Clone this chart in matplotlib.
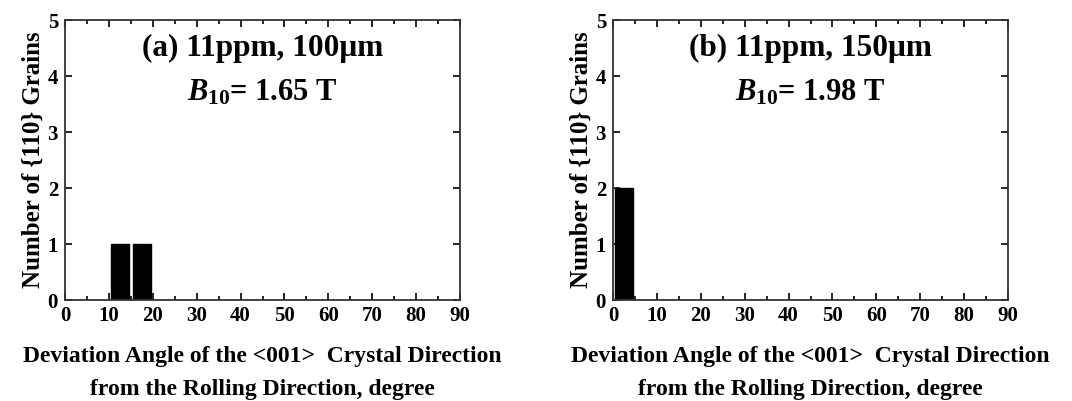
import matplotlib.pyplot as plt
import numpy as np

plt.rcParams['font.family'] = ['Liberation Serif', 'DejaVu Serif']
plt.rcParams['font.weight'] = 'bold'
plt.rcParams['mathtext.fontset'] = 'custom'
plt.rcParams['mathtext.it'] = 'Liberation Serif:italic:bold'
plt.rcParams['mathtext.rm'] = 'Liberation Serif:bold'

# bin centres (degree) and counts for each panel
centers_a = [12.5, 17.5]
counts_a = [1, 1]
centers_b = [2.5]
counts_b = [2]

titles = ['(a) 11ppm, 100\u03bcm', '(b) 11ppm, 150\u03bcm']
b10_values = ['1.65', '1.98']
xticks = np.arange(0, 91, 10)
yticks = np.arange(0, 6, 1)

fig = plt.figure(figsize=(10.72, 4.01), dpi=100)
ax1 = fig.add_axes([65/1072, 1 - 300/401, 395/1072, 280/401])
ax2 = fig.add_axes([613/1072, 1 - 300/401, 395/1072, 280/401])

for ax, centers, counts, title, b10 in zip([ax1, ax2], [centers_a, centers_b],
                                          [counts_a, counts_b], titles, b10_values):
    ax.bar(centers, counts, width=4, color='black', edgecolor='black')
    ax.set_xlim(0, 90)
    ax.set_ylim(0, 5)
    ax.set_xticks(xticks)
    ax.set_yticks(yticks)
    ax.set_xticks(np.arange(5, 90, 10), minor=True)
    ax.tick_params(which='both', direction='in', top=True, right=True,
                   labelsize=15, width=1.2)
    ax.tick_params(axis='x', pad=4)
    ax.tick_params(axis='y', pad=5)
    ax.tick_params(which='major', length=5)
    ax.tick_params(which='minor', length=3)
    for lbl in ax.get_xticklabels() + ax.get_yticklabels():
        lbl.set_fontweight('bold')
    for s in ax.spines.values():
        s.set_linewidth(1.3)
        s.set_color('#333333')
    ax.set_ylabel('Number of {110} Grains', fontsize=18, fontweight='bold', labelpad=2)
    ax.set_xlabel('Deviation Angle of the <001>  Crystal Direction\nfrom the Rolling Direction, degree',
                  fontsize=17, fontweight='bold', linespacing=1.75, labelpad=15)
    ax.text(0.5, 0.9, title, transform=ax.transAxes, ha='center', va='center',
            fontsize=22.5, fontweight='bold')
    ax.text(0.5, 0.74, r'$B_{10}$' + '= ' + b10 + ' T', transform=ax.transAxes,
            ha='center', va='center', fontsize=22, fontweight='bold')

fig.savefig('out.png', dpi=100)
